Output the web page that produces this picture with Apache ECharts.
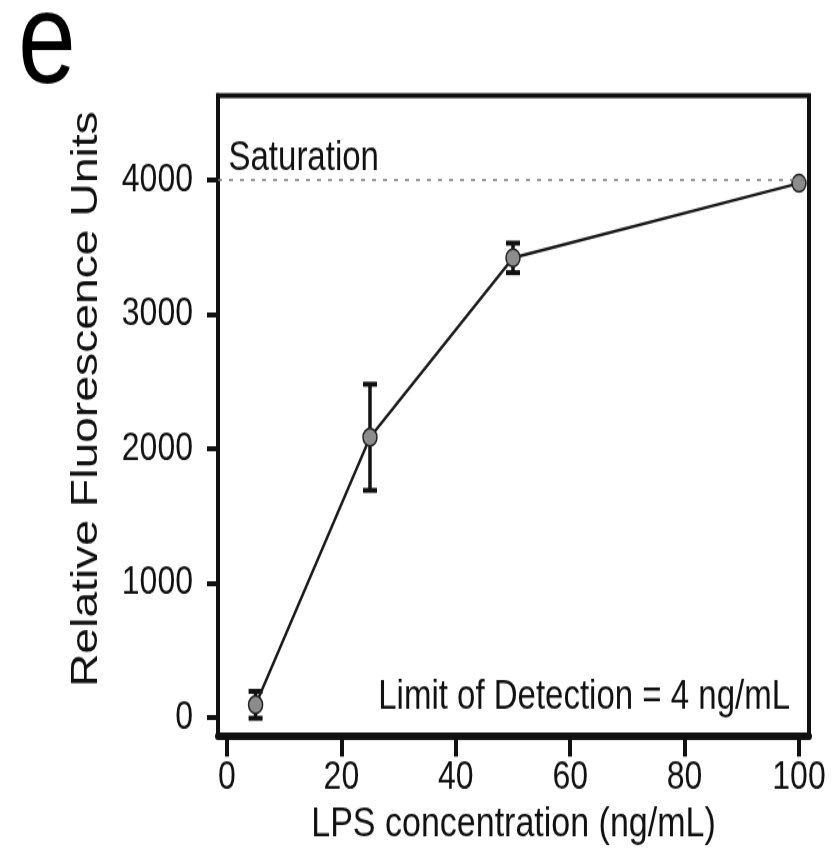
<!DOCTYPE html>
<html>
<head>
<meta charset="utf-8">
<script src="https://cdn.jsdelivr.net/npm/echarts@6/dist/echarts.min.js"></script>
<style>
  html, body { margin: 0; padding: 0; background: #fff; }
  body { width: 839px; height: 863px; overflow: visible; }
  /* The figure is laid out on a shorter canvas and stretched vertically */
  #chart { width: 839px; height: 690.4px; transform: scaleY(1.25); transform-origin: 0 0; }
</style>
</head>
<body>
<div id="chart"></div>
<script>
// LPS dose-response: mean RFU with error bars
const concentrations = [5, 25, 50, 100];      // ng/mL
const rfuMeans = [95, 2085, 3420, 3975];      // relative fluorescence units
const rfuErrors = [100, 395, 110, 0];         // error bar half-lengths
const xTicks = [0, 20, 40, 60, 80, 100];
const yTicks = [0, 1000, 2000, 3000, 4000];
const saturationLevel = 4000;
const detectionLimit = 4;                     // ng/mL

const FONT = '"Liberation Sans", Arial, Helvetica, sans-serif';
const INK = '#111';
const plain = v => String(v);

const points = concentrations.map((c, i) => [c, rfuMeans[i]]);
const errorData = concentrations.map((c, i) => [c, rfuMeans[i], rfuErrors[i]]);

const chart = echarts.init(document.getElementById('chart'), null, { renderer: 'canvas' });

const option = {
  animation: false,
  backgroundColor: '#fff',
  grid: {
    left: 218, right: 30, top: 76.4, bottom: 100.8,
    show: true, borderColor: INK, borderWidth: 4,
    containLabel: false, outerBoundsMode: 'none'
  },
  xAxis: {
    type: 'value', min: -1.57, max: 101.75,
    axisLine: { show: true, onZero: false, lineStyle: { color: INK, width: 6 } },
    axisTick: { show: true, customValues: xTicks, length: 16, lineStyle: { color: INK, width: 4 } },
    axisLabel: { customValues: xTicks, formatter: plain, margin: 17, fontSize: 32, color: INK, fontFamily: FONT },
    splitLine: { show: false },
    name: 'LPS concentration (ng/mL)', nameLocation: 'middle', nameGap: 52,
    nameTextStyle: { fontSize: 34, color: INK, fontFamily: FONT }
  },
  yAxis: {
    type: 'value', min: -141, max: 4628,
    axisLine: { show: true, onZero: false, lineStyle: { color: INK, width: 4 } },
    axisTick: { show: true, customValues: yTicks, length: 11, lineStyle: { color: INK, width: 4 } },
    axisLabel: { customValues: yTicks, formatter: plain, margin: 25, fontSize: 32, color: INK, fontFamily: FONT },
    splitLine: { show: false },
    name: 'Relative Fluorescence Units', nameLocation: 'middle', nameGap: 113,
    nameTextStyle: { fontSize: 37, color: INK, fontFamily: FONT, padding: [0, 0, 0, 27] }
  },
  graphic: [
    {
      type: 'text', x: 18, y: 37,
      style: { text: 'e', fontSize: 104, fontFamily: FONT, fill: '#000', align: 'left', verticalAlign: 'middle' }
    },
    {
      type: 'text', x: 790, y: 558,
      style: {
        text: 'Limit of Detection = ' + detectionLimit + ' ng/mL',
        fontSize: 33, fontFamily: FONT, fill: INK, align: 'right', verticalAlign: 'middle'
      }
    }
  ],
  series: [
    {
      name: 'error',
      type: 'custom',
      data: errorData,
      encode: { x: 0, y: 1 },
      clip: false,
      renderItem: function (params, api) {
        const x = api.value(0), y = api.value(1), e = api.value(2);
        const top = api.coord([x, y + e]);
        const bot = api.coord([x, y - e]);
        const hw = 7;
        const s = { stroke: INK, lineWidth: 4 };
        return {
          type: 'group',
          children: [
            { type: 'line', shape: { x1: top[0], y1: top[1], x2: bot[0], y2: bot[1] }, style: { stroke: INK, lineWidth: 3.5 } },
            { type: 'line', shape: { x1: top[0] - hw, y1: top[1], x2: top[0] + hw, y2: top[1] }, style: s },
            { type: 'line', shape: { x1: bot[0] - hw, y1: bot[1], x2: bot[0] + hw, y2: bot[1] }, style: s }
          ]
        };
      }
    },
    {
      name: 'RFU',
      type: 'line',
      data: points,
      symbol: 'circle',
      symbolSize: 14,
      lineStyle: { color: '#1a1a1a', width: 2.5 },
      itemStyle: { color: '#8c8c8c', borderColor: '#222', borderWidth: 1.5 },
      markLine: {
        silent: true,
        symbol: 'none',
        lineStyle: { color: '#7a7a7a', width: 1.6, type: [4, 7] },
        label: {
          show: true, position: 'insideStartTop', formatter: 'Saturation',
          distance: [10.5, 1], fontSize: 33, color: INK, fontFamily: FONT
        },
        data: [{ yAxis: saturationLevel }]
      },
      z: 3
    }
  ]
};

chart.setOption(option);
</script>
</body>
</html>
